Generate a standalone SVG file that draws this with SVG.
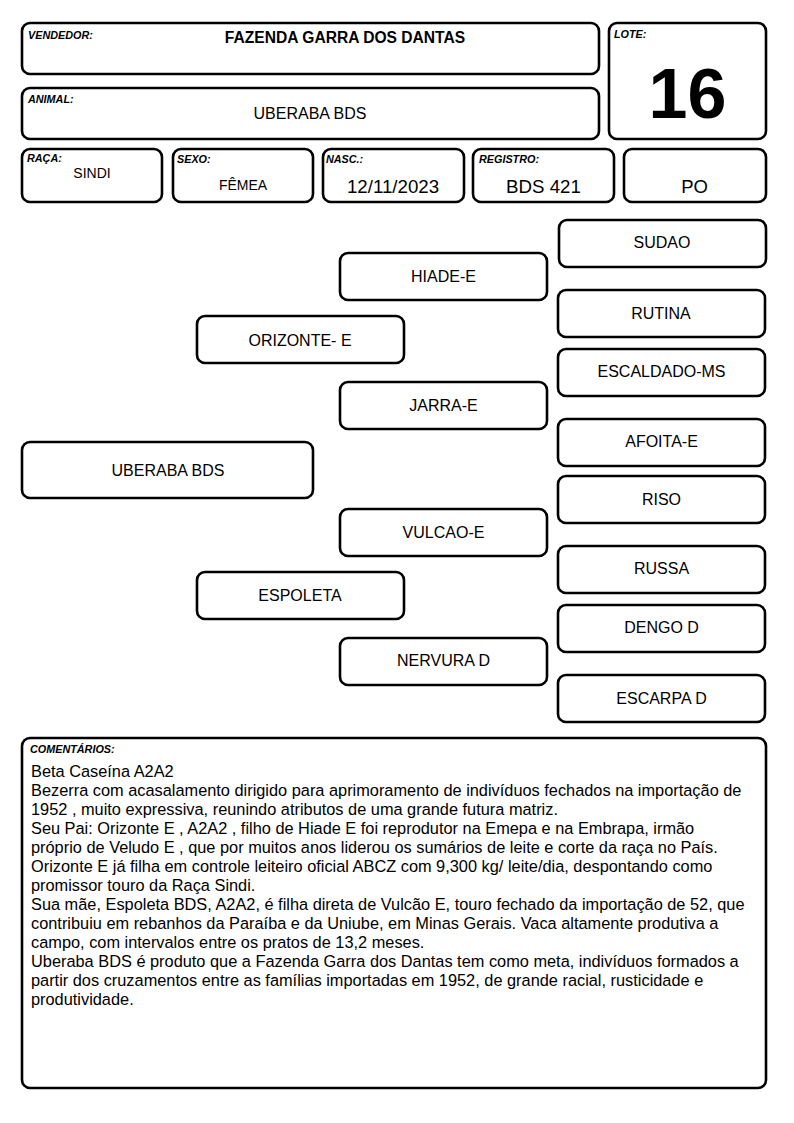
<svg xmlns="http://www.w3.org/2000/svg" width="794" height="1123" viewBox="0 0 794 1123">
<style>
.box{fill:#fff;stroke:#000;stroke-width:2.6}
.lbl{font-family:"Liberation Sans",Arial,sans-serif;font-weight:bold;font-style:italic;font-size:10.8px;fill:#000}
.t{font-family:"Liberation Sans",Arial,sans-serif;font-size:16px;fill:#000;text-anchor:middle}
.c{font-family:"Liberation Sans",Arial,sans-serif;font-size:16.35px;fill:#000}
</style>
<rect width="794" height="1123" fill="#fff"/>
<g id="vendedor">
<rect class="box" x="22" y="23" width="577" height="51" rx="8"/>
<text class="lbl" x="28" y="39">VENDEDOR:</text>
<text class="t" x="345" y="43" style="font-weight:bold;font-size:15.6px">FAZENDA GARRA DOS DANTAS</text>
</g>
<g id="lote">
<rect class="box" x="609" y="23" width="157" height="116" rx="8"/>
<text class="lbl" x="614" y="38">LOTE:</text>
<text class="t" x="687.5" y="118" style="font-weight:bold;font-size:70px">16</text>
</g>
<g id="animal">
<rect class="box" x="22" y="88" width="577" height="51" rx="8"/>
<text class="lbl" x="28" y="103">ANIMAL:</text>
<text class="t" x="310" y="119">UBERABA BDS</text>
</g>
<g id="raca">
<rect class="box" x="22" y="149" width="140" height="53" rx="8"/>
<text class="lbl" x="27" y="162">RAÇA:</text>
<text class="t" x="92" y="178" style="font-size:14px">SINDI</text>
</g>
<g id="sexo">
<rect class="box" x="173" y="149" width="140" height="53" rx="8"/>
<text class="lbl" x="177" y="163">SEXO:</text>
<text class="t" x="243" y="190" style="font-size:14px">FÊMEA</text>
</g>
<g id="nasc">
<rect class="box" x="323" y="149" width="141" height="53" rx="8"/>
<text class="lbl" x="326" y="163">NASC.:</text>
<text class="t" x="393" y="193" style="font-size:18.7px">12/11/2023</text>
</g>
<g id="registro">
<rect class="box" x="473" y="149" width="141" height="53" rx="8"/>
<text class="lbl" x="479" y="163">REGISTRO:</text>
<text class="t" x="543.5" y="193" style="font-size:18.7px">BDS 421</text>
</g>
<g id="po">
<rect class="box" x="624" y="149" width="142" height="53" rx="8"/>
<text class="t" x="694.5" y="193" style="font-size:18.5px">PO</text>
</g>
<g id="connectors"></g>
<g id="n-uberaba">
<rect class="box" x="22" y="442" width="291" height="56" rx="8"/>
<text class="t" x="168" y="475.5">UBERABA BDS</text>
</g>
<g id="n-orizonte">
<rect class="box" x="197" y="316" width="207" height="47" rx="8"/>
<text class="t" x="300" y="345.5">ORIZONTE- E</text>
</g>
<g id="n-espoleta">
<rect class="box" x="197" y="572" width="207" height="47" rx="8"/>
<text class="t" x="300" y="601">ESPOLETA</text>
</g>
<g id="n-hiade">
<rect class="box" x="340" y="253" width="207" height="47" rx="8"/>
<text class="t" x="443.5" y="282">HIADE-E</text>
</g>
<g id="n-jarra">
<rect class="box" x="340" y="382" width="207" height="47" rx="8"/>
<text class="t" x="443.5" y="411">JARRA-E</text>
</g>
<g id="n-vulcao">
<rect class="box" x="340" y="509" width="207" height="47" rx="8"/>
<text class="t" x="443.5" y="538">VULCAO-E</text>
</g>
<g id="n-nervura">
<rect class="box" x="340" y="638" width="207" height="47" rx="8"/>
<text class="t" x="443.5" y="666">NERVURA D</text>
</g>
<g id="n-sudao">
<rect class="box" x="559" y="220" width="207" height="47" rx="8"/>
<text class="t" x="662" y="248">SUDAO</text>
</g>
<g id="n-rutina">
<rect class="box" x="558" y="290" width="207" height="47" rx="8"/>
<text class="t" x="661" y="319">RUTINA</text>
</g>
<g id="n-escaldado">
<rect class="box" x="558" y="349" width="207" height="47" rx="8"/>
<text class="t" x="661.5" y="377">ESCALDADO-MS</text>
</g>
<g id="n-afoita">
<rect class="box" x="558" y="419" width="207" height="47" rx="8"/>
<text class="t" x="661.5" y="447">AFOITA-E</text>
</g>
<g id="n-riso">
<rect class="box" x="558" y="476" width="207" height="47" rx="8"/>
<text class="t" x="661.5" y="505">RISO</text>
</g>
<g id="n-russa">
<rect class="box" x="558" y="546" width="207" height="47" rx="8"/>
<text class="t" x="661.5" y="574">RUSSA</text>
</g>
<g id="n-dengo">
<rect class="box" x="558" y="605" width="207" height="47" rx="8"/>
<text class="t" x="661.5" y="633">DENGO D</text>
</g>
<g id="n-escarpa">
<rect class="box" x="558" y="675" width="207" height="47" rx="8"/>
<text class="t" x="661.5" y="704">ESCARPA D</text>
</g>
<g id="comentarios">
<rect class="box" x="22" y="738" width="744" height="350" rx="8"/>
<text class="lbl" x="30" y="752.5">COMENTÁRIOS:</text>
<text class="c" x="31" y="777">Beta Caseína A2A2</text>
<text class="c" x="31" y="796">Bezerra com acasalamento dirigido para aprimoramento de indivíduos fechados na importação de</text>
<text class="c" x="31" y="815">1952 , muito expressiva, reunindo atributos de uma grande futura matriz.</text>
<text class="c" x="31" y="834">Seu Pai: Orizonte E , A2A2 , filho de Hiade E foi reprodutor na Emepa e na Embrapa, irmão</text>
<text class="c" x="31" y="853">próprio de Veludo E , que por muitos anos liderou os sumários de leite e corte da raça no País.</text>
<text class="c" x="31" y="872">Orizonte E já filha em controle leiteiro oficial ABCZ com 9,300 kg/ leite/dia, despontando como</text>
<text class="c" x="31" y="891">promissor touro da Raça Sindi.</text>
<text class="c" x="31" y="910">Sua mãe, Espoleta BDS, A2A2, é filha direta de Vulcão E, touro fechado da importação de 52, que</text>
<text class="c" x="31" y="929">contribuiu em rebanhos da Paraíba e da Uniube, em Minas Gerais. Vaca altamente produtiva a</text>
<text class="c" x="31" y="948">campo, com intervalos entre os pratos de 13,2 meses.</text>
<text class="c" x="31" y="967">Uberaba BDS é produto que a Fazenda Garra dos Dantas tem como meta, indivíduos formados a</text>
<text class="c" x="31" y="986">partir dos cruzamentos entre as famílias importadas em 1952, de grande racial, rusticidade e</text>
<text class="c" x="31" y="1005">produtividade.</text>
</g>
</svg>
